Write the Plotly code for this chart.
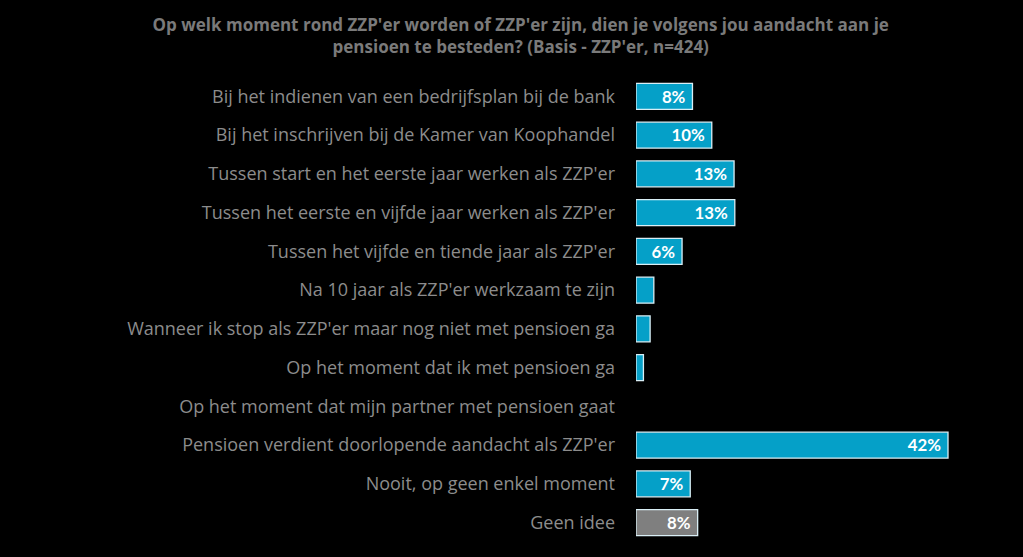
import plotly.graph_objects as go

categories = [
    "Bij het indienen van een bedrijfsplan bij de bank",
    "Bij het inschrijven bij de Kamer van Koophandel",
    "Tussen start en het eerste jaar werken als ZZP'er",
    "Tussen het eerste en vijfde jaar werken als ZZP'er",
    "Tussen het vijfde en tiende jaar als ZZP'er",
    "Na 10 jaar als ZZP'er werkzaam te zijn",
    "Wanneer ik stop als ZZP'er maar nog niet met pensioen ga",
    "Op het moment dat ik met pensioen ga",
    "Op het moment dat mijn partner met pensioen gaat",
    "Pensioen verdient doorlopende aandacht als ZZP'er",
    "Nooit, op geen enkel moment",
    "Geen idee",
]
values = [7.6, 10.2, 13.2, 13.3, 6.2, 2.4, 1.9, 1.0, 0, 42.0, 7.3, 8.3]
value_labels = ["8%", "10%", "13%", "13%", "6%", "", "", "", "", "42%", "7%", "8%"]

colors = ["#05A0C8"] * (len(categories) - 1) + ["#7F7F7F"]
line_widths = [1.3 if v > 0 else 0 for v in values]

fig = go.Figure(go.Bar(
    y=categories,
    x=values,
    orientation="h",
    marker=dict(color=colors, line=dict(color="#D9EEF5", width=line_widths)),
    text=value_labels,
    texttemplate="%{text}\u00a0",
    textposition="inside",
    insidetextanchor="end",
    textfont=dict(family="Lato", size=18.5, color="white", weight="bold"),
    hoverinfo="skip",
))

fig.update_layout(
    width=1023, height=557,
    paper_bgcolor="black", plot_bgcolor="black",
    margin=dict(l=636, r=23, t=77, b=15),
    bargap=0.33,
    showlegend=False,
    title=dict(
        text="Op welk moment rond ZZP'er worden of ZZP'er zijn, dien je volgens jou aandacht aan je<br>pensioen te besteden? (Basis - ZZP'er, n=424)",
        x=0.509, xanchor="center", y=0.945, yanchor="top",
        font=dict(family="Open Sans", size=17, color="#7A7A7A", weight="bold"),
    ),
    xaxis=dict(range=[0, 49], visible=False, showgrid=False, zeroline=False),
    yaxis=dict(
        autorange="reversed",
        showgrid=False, zeroline=False, showline=False,
        ticks="", ticklabelstandoff=20,
        tickfont=dict(family="Open Sans", size=18, color="#8C8C8C"),
    ),
    uniformtext=dict(minsize=8, mode="show"),
)

fig.write_html(
    "out.html",
    config={"displayModeBar": False},
    post_script="document.body.style.margin='0';document.body.style.overflow='hidden';document.body.style.background='black';",
)
